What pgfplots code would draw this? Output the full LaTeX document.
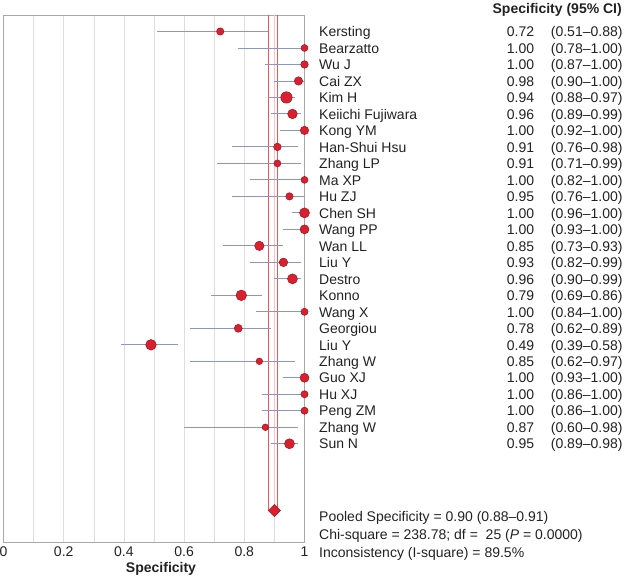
\documentclass[border=0pt]{standalone}
\usepackage{pgfplots}
\pgfplotsset{compat=1.18}
\usepackage{pgfplotstable}
\usepackage{fontspec}
\setmainfont{Liberation Sans}
\definecolor{dotred}{HTML}{D9202E}
\definecolor{dotdraw}{HTML}{9E1520}
\definecolor{cilin}{HTML}{8A96C8}
\definecolor{gridc}{HTML}{DEDEDE}
\definecolor{framec}{HTML}{A8A8A8}
\definecolor{poolred}{HTML}{E05A5A}
\definecolor{txt}{HTML}{222222}

\pgfplotstableread{
x lo hi y r
0.72 0.51 0.88 -1 3.7
1.00 0.78 1.00 -2 3.5
1.00 0.87 1.00 -3 3.8
0.98 0.90 1.00 -4 4.2
0.94 0.88 0.97 -5 5.7
0.96 0.89 0.99 -6 4.8
1.00 0.92 1.00 -7 4.2
0.91 0.76 0.98 -8 3.8
0.91 0.71 0.99 -9 3.5
1.00 0.82 1.00 -10 3.5
0.95 0.76 1.00 -11 3.7
1.00 0.96 1.00 -12 5.0
1.00 0.93 1.00 -13 4.5
0.85 0.73 0.93 -14 4.7
0.93 0.82 0.99 -15 4.3
0.96 0.90 0.99 -16 5.0
0.79 0.69 0.86 -17 5.3
1.00 0.84 1.00 -18 3.6
0.78 0.62 0.89 -19 4.0
0.49 0.39 0.58 -20 5.3
0.85 0.62 0.97 -21 3.3
1.00 0.93 1.00 -22 4.5
1.00 0.86 1.00 -23 3.6
1.00 0.86 1.00 -24 3.6
0.87 0.60 0.98 -25 3.3
0.95 0.89 0.98 -26 5.0
}\studies

\begin{document}
\begin{tikzpicture}
\useasboundingbox (-3.5pt,-34.3pt) rectangle (620.5pt,542.7pt);
\begin{axis}[
  at={(0pt,0pt)}, anchor=south west,
  scale only axis, width=301pt, height=527.7pt,
  xmin=0, xmax=1, ymin=-32, ymax=0,
  axis line style={framec, line width=0.8pt},
  xtick={0,0.2,0.4,0.6,0.8,1},
  xticklabels={0,0.2,0.4,0.6,0.8,1},
  minor xtick={0.1,0.3,0.5,0.7,0.9},
  xmajorgrids, xminorgrids,
  major grid style={gridc, line width=0.6pt},
  minor grid style={gridc, line width=0.6pt},
  ytick=\empty,
  major tick length=0pt, minor tick length=0pt,
  xticklabel style={font=\fontsize{14}{16}\selectfont, text=txt, anchor=base, yshift=-14pt},
  clip=false,
]
\addplot[poolred, line width=0.6pt] coordinates {(0.88,0) (0.88,-30.05)};
\addplot[poolred, line width=0.6pt] coordinates {(0.91,0) (0.91,-30.05)};
\addplot[poolred!35, line width=0.6pt] coordinates {(0.90,0) (0.90,-30.05)};
\addplot[only marks, mark=none,
  error bars/.cd, x dir=both, x explicit, error mark=none,
  error bar style={cilin, line width=0.9pt}]
  table[x=x, y=y, x error minus expr=\thisrow{x}-\thisrow{lo}, x error plus expr=\thisrow{hi}-\thisrow{x}] {\studies};
\addplot[scatter, only marks, mark=*,
  scatter/use mapped color={draw=dotdraw, fill=dotred},
  visualization depends on={\thisrow{r} \as \rad},
  scatter/@pre marker code/.append style={/tikz/mark size=\rad},
  mark options={line width=0.5pt}]
  table[x=x, y=y] {\studies};
\addplot[only marks, mark=square*, mark size=4.3pt,
  mark options={fill=dotred, draw=dotdraw, line width=0.5pt, rotate=45}]
  coordinates {(0.90,-30.05)};
\end{axis}
\begin{scope}[every node/.style={font=\fontsize{14}{16}\selectfont, text=txt, inner sep=0pt}]
\foreach \n/\v/\c [count=\i from 0] in {
  Kersting/0.72/{(0.51–0.88)},
  Bearzatto/1.00/{(0.78–1.00)},
  Wu J/1.00/{(0.87–1.00)},
  Cai ZX/0.98/{(0.90–1.00)},
  Kim H/0.94/{(0.88–0.97)},
  Keiichi Fujiwara/0.96/{(0.89–0.99)},
  Kong YM/1.00/{(0.92–1.00)},
  Han-Shui Hsu/0.91/{(0.76–0.98)},
  Zhang LP/0.91/{(0.71–0.99)},
  Ma XP/1.00/{(0.82–1.00)},
  Hu ZJ/0.95/{(0.76–1.00)},
  Chen SH/1.00/{(0.96–1.00)},
  Wang PP/1.00/{(0.93–1.00)},
  Wan LL/0.85/{(0.73–0.93)},
  Liu Y/0.93/{(0.82–0.99)},
  Destro/0.96/{(0.90–0.99)},
  Konno/0.79/{(0.69–0.86)},
  Wang X/1.00/{(0.84–1.00)},
  Georgiou/0.78/{(0.62–0.89)},
  Liu Y/0.49/{(0.39–0.58)},
  Zhang W/0.85/{(0.62–0.97)},
  Guo XJ/1.00/{(0.93–1.00)},
  Hu XJ/1.00/{(0.86–1.00)},
  Peng ZM/1.00/{(0.86–1.00)},
  Zhang W/0.87/{(0.60–0.98)},
  Sun N/0.95/{(0.89–0.98)}}
{
  \pgfmathsetmacro{\yy}{511-\i*16.49-5}
  \node[anchor=base west] at (315.5pt,\yy pt) {\n};
  \node[anchor=base east] at (530.8pt,\yy pt) {\v};
  \node[anchor=base west] at (547.2pt,\yy pt) {\c};
}
\node[anchor=base east, font=\fontsize{14}{16}\selectfont\bfseries] at (618.5pt,529.4pt) {Specificity (95\% CI)};
\node[anchor=base west] at (315.5pt,20.7pt) {Pooled Specificity = 0.90 (0.88–0.91)};
\node[anchor=base west] at (315.5pt,2.7pt) {Chi-square = 238.78; df = \ 25 (\textit{P} = 0.0000)};
\node[anchor=base west] at (315.5pt,-15pt) {Inconsistency (I-square) = 89.5\%};
\node[anchor=base, font=\fontsize{14}{16}\selectfont\bfseries] at (157.5pt,-30.3pt) {Specificity};
\end{scope}
\end{tikzpicture}
\end{document}
